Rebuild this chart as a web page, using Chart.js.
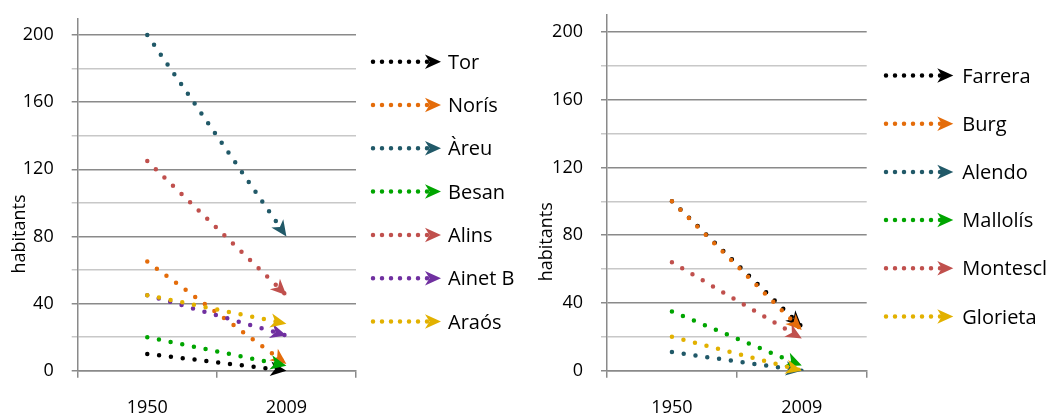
<!DOCTYPE html>
<html>
<head>
<meta charset="utf-8">
<script src="https://cdn.jsdelivr.net/npm/chart.js@4.4.1/dist/chart.umd.min.js"></script>
<style>
  html, body { margin: 0; padding: 0; background: #fff; }
  #wrap { position: relative; width: 1053px; height: 416px; overflow: hidden; }
  #leftChart { position: absolute; left: 0; top: 0; }
  #rightChart { position: absolute; left: 530px; top: 0; }
</style>
</head>
<body>
<div id="wrap">
  <canvas id="leftChart" width="530" height="416"></canvas>
  <canvas id="rightChart" width="523" height="416"></canvas>
</div>
<script>
// --- data ---
const years = ['1950', '2009'];
const yLabels = [0, 40, 80, 120, 160, 200];

const leftNames = ['Tor', 'Norís', 'Àreu', 'Besan', 'Alins', 'Ainet B', 'Araós'];
const tor = [10, 0];
const noris = [65, 4];
const areu = [200, 80];
const besan = [20, 3];
const alins = [125, 45];
const ainetB = [45, 21];
const araos = [45, 28];

const rightNames = ['Farrera', 'Burg', 'Alendo', 'Mallolís', 'Montescl', 'Glorieta'];
const farrera = [100, 26];
const burg = [100, 24];
const alendo = [11, 0];
const mallolis = [35, 3];
const montescl = [64, 19];
const glorieta = [20, 0];

const BLACK = '#000000', ORANGE = '#E46C0A', TEAL = '#215968', GREEN = '#00A500',
      RED = '#C0504D', PURPLE = '#7030A0', GOLD = '#E2B100';
const leftColors = [BLACK, ORANGE, TEAL, GREEN, RED, PURPLE, GOLD];
const rightColors = [BLACK, ORANGE, TEAL, GREEN, RED, GOLD];

const FONT = 'Open Sans';
const MAJOR = '#8a8a8a';
const MINOR = '#c8c8c8';

// stealth style arrow head, tip at (x, y)
function drawArrow(ctx, x, y, angle, color) {
    const L = 16, W = 14.5, N = 4.5;
    ctx.save();
    ctx.translate(x, y);
    ctx.rotate(angle);
    ctx.beginPath();
    ctx.moveTo(0, 0);
    ctx.lineTo(-L, -W / 2);
    ctx.lineTo(-L + N, 0);
    ctx.lineTo(-L, W / 2);
    ctx.closePath();
    ctx.fillStyle = color;
    ctx.fill();
    ctx.restore();
}

// arrow at the end of each series, drawn right after its line
const arrowHeads = {
    id: 'arrowHeads',
    afterDatasetDraw(chart, args) {
        const pts = args.meta.data;
        if (pts.length < 2) return;
        const a = pts[pts.length - 2];
        const b = pts[pts.length - 1];
        const color = chart.data.datasets[args.index].borderColor;
        drawArrow(chart.ctx, b.x, b.y, Math.atan2(b.y - a.y, b.x - a.x), color);
    }
};

const dottedLegend = {
    id: 'dottedLegend',
    afterDraw(chart, args, opts) {
        const ctx = chart.ctx;
        chart.data.datasets.forEach((ds, i) => {
            const y = opts.top + i * opts.step;
            ctx.save();
            ctx.strokeStyle = ds.borderColor;
            ctx.lineWidth = 4.5;
            ctx.lineCap = 'round';
            ctx.setLineDash([0, 9]);
            ctx.beginPath();
            ctx.moveTo(opts.startX, y);
            ctx.lineTo(opts.tipX - 8, y);
            ctx.stroke();
            ctx.restore();
            drawArrow(ctx, opts.tipX, y, 0, ds.borderColor);

            ctx.save();
            ctx.fillStyle = '#000';
            ctx.font = '20px "' + FONT + '"';
            ctx.textAlign = 'left';
            ctx.textBaseline = 'alphabetic';
            ctx.fillText(ds.label, opts.textX, y + 7.1);
            ctx.restore();
        });
    }
};

// y axis title, placed where the original puts it (not centred on the axis)
const sideTitle = {
    id: 'sideTitle',
    afterDraw(chart, args, opts) {
        const ctx = chart.ctx;
        ctx.save();
        ctx.translate(opts.x, opts.y);
        ctx.rotate(-Math.PI / 2);
        ctx.fillStyle = '#000';
        ctx.font = '18px "' + FONT + '"';
        ctx.textAlign = 'center';
        ctx.textBaseline = 'alphabetic';
        ctx.fillText(opts.text, 0, 6.8);
        ctx.restore();
    }
};

function buildChart(canvasId, names, series, colors, box) {
    return new Chart(document.getElementById(canvasId), {
        type: 'line',
        data: {
            labels: years,
            datasets: names.map((name, i) => ({
                label: name,
                data: series[i],
                borderColor: colors[i],
                backgroundColor: colors[i],
                borderWidth: 4.5,
                borderDash: [0, 11.9],
                borderCapStyle: 'round',
                pointRadius: 0,
                pointHoverRadius: 0,
                fill: false,
                tension: 0,
                order: names.length - i
            }))
        },
        options: {
            responsive: false,
            animation: false,
            layout: { padding: { top: box.top, right: box.right, bottom: 0, left: 0 } },
            plugins: {
                legend: { display: false },
                tooltip: { enabled: false },
                dottedLegend: box.legend,
                sideTitle: box.title
            },
            scales: {
                x: {
                    offset: true,
                    afterFit: s => { s.height = box.xHeight; s.paddingLeft = 0; s.paddingRight = 0; },
                    border: { color: MAJOR, width: 1.5 },
                    grid: { offset: true, drawOnChartArea: false, tickLength: 7, color: MAJOR, lineWidth: 1.5 },
                    ticks: { padding: 19, color: '#000', maxRotation: 0, font: { family: FONT, size: 18 } }
                },
                y: {
                    min: 0,
                    max: 210,
                    afterFit: s => { s.width = box.yWidth; s.paddingTop = 0; s.paddingBottom = 0; },
                    border: { color: MAJOR, width: 1.5 },
                    grid: {
                        tickLength: 6,
                        lineWidth: 1.5,
                        color: c => (c.tick && c.tick.value % 40 !== 0) ? MINOR : MAJOR
                    },
                    ticks: {
                        stepSize: 20,
                        includeBounds: false,
                        padding: 18,
                        color: '#000',
                        font: { family: FONT, size: 18 },
                        callback: v => yLabels.includes(v) ? String(v) : ''
                    }
                }
            }
        },
        plugins: [arrowHeads, dottedLegend, sideTitle]
    });
}

buildChart('leftChart', leftNames, [tor, noris, areu, besan, alins, ainetB, araos], leftColors, {
    top: 18.3, right: 174, xHeight: 45.3, yWidth: 77.7,
    legend: { startX: 373, tipX: 441, textX: 448, top: 61.7, step: 43.3 },
    title: { text: 'habitants', x: 18.3, y: 234 }
});

buildChart('rightChart', rightNames, [farrera, burg, alendo, mallolis, montescl, glorieta], rightColors, {
    top: 15, right: 186.3, xHeight: 45.3, yWidth: 77,
    legend: { startX: 356, tipX: 423.3, textX: 432.3, top: 75.5, step: 48.2 },
    title: { text: 'habitants', x: 15, y: 241.7 }
});
</script>
</body>
</html>
